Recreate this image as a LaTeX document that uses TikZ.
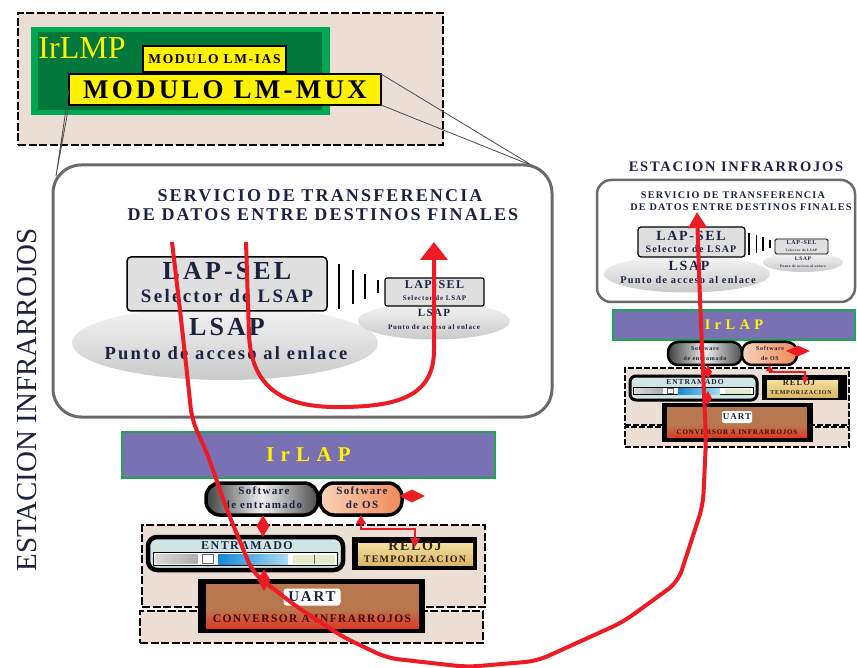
\documentclass[tikz,border=0pt]{standalone}
\usepackage{fontspec}
\setmainfont{Liberation Serif}
\newfontfamily\spc[LetterSpace=12]{Liberation Serif}
\newfontfamily\wspc[LetterSpace=30]{Liberation Serif}
\usetikzlibrary{arrows.meta,shapes.geometric}
\newcommand\fs[2]{\fontsize{#1}{#2}\selectfont}

\definecolor{beige}{HTML}{EBDFD5}
\definecolor{lmpout}{HTML}{00A651}
\definecolor{lmpin}{HTML}{00783C}
\definecolor{yel}{HTML}{FFF200}
\definecolor{lapviolet}{HTML}{7A70B4}
\definecolor{irgreen}{HTML}{1BA84F}
\definecolor{arrowred}{HTML}{ED1C24}
\definecolor{ink}{HTML}{1C2340}
\definecolor{boxgray}{HTML}{6A6A6A}
\definecolor{tanl}{HTML}{F3E0A0}
\definecolor{tand}{HTML}{D9B766}
\definecolor{uartbrown}{HTML}{B8784F}
\definecolor{convred}{HTML}{DC3B26}
\definecolor{entfill}{HTML}{CFE5E3}
\definecolor{osl}{HTML}{FAD2B8}
\definecolor{osd}{HTML}{F08A58}
\definecolor{blued}{HTML}{1587D6}
\definecolor{bluel}{HTML}{A9DCF5}
\definecolor{crcfill}{HTML}{E4EACB}

\tikzset{
  plainbox/.style={inner sep=0, outer sep=0},
  dashbox/.style={plainbox, draw=black, line width=1.8pt, dash pattern=on 8pt off 2.5pt, fill=beige},
  yelbox/.style={plainbox, draw=black, line width=1.2pt, fill=yel},
  pill/.style={plainbox, draw=black, line width=3.5pt, rounded corners=14pt},
  lbl/.style={inner sep=0, text=ink, font=\spc\bfseries\fs{#1}{#1}},
  reddia/.style={diamond, fill=arrowred, inner sep=0, aspect=1},
  redarrow/.style={draw=arrowred, line width=4pt, line join=round, rounded corners=12pt},
  clockarrow/.style={draw=arrowred, line width=1.6pt},
  linkline/.style={draw=black!70, line width=0.8pt},
  bar/.style={line width=2.2pt},
}

\begin{document}
\begin{tikzpicture}[x=1pt,y=-1pt]
\useasboundingbox (0,0) rectangle (857,668);

% IrLMP
\node[dashbox, minimum width=425, minimum height=132] (lmpframe) at (230.5,79) {};
\node[plainbox, fill=lmpout, minimum width=299, minimum height=88] (lmpouter) at (180.5,71) {};
\node[plainbox, fill=lmpin, minimum width=284, minimum height=78] (lmpinner) at (180,71) {};
\node[inner sep=0, text=yel, font=\fs{32}{32}] (irlmp) at (82,48) {IrLMP};
\node[yelbox, lbl=13.5, text=black, minimum width=143, minimum height=26] (lmias) at (214.5,59) {MODULO LM-IAS};
\node[yelbox, lbl=27, text=black, minimum width=312, minimum height=31] (lmmux) at (225,89.5) {MODULO LM-MUX};

\coordinate (srvne) at (533,166);
\coordinate (srvnw) at (56,176);
\draw[linkline] (lmmux.north east) -- (srvne) (lmmux.south east) -- (srvne);
\draw[linkline] (lmmux.west) -- (srvnw) (lmmux.south west) -- (srvnw);

% servicio (izquierda)
\node[plainbox, draw=boxgray, line width=3pt, rounded corners=28pt, fill=white, minimum width=499, minimum height=252] (srvbox) at (302.5,291) {};
\node[lbl=18] (srvt1) at (320,196) {SERVICIO DE TRANSFERENCIA};
\node[lbl=18] (srvt2) at (323,215) {DE DATOS ENTRE DESTINOS FINALES};

\node[ellipse, plainbox, top color=gray!8, bottom color=gray!42, minimum width=306, minimum height=74] (lsap) at (225,343) {};
\node[plainbox, draw=black, line width=1.5pt, rounded corners=4pt, fill=gray!25, minimum width=200, minimum height=54] (lapsel) at (227,284) {};
\node[lbl=26] (lapselt) at (227,271) {LAP-SEL};
\node[lbl=19] (lapsels) at (227,296) {Selector de LSAP};
\node[lbl=26] (lsapt) at (227,327) {LSAP};
\node[lbl=18.5] (lsaps) at (226,353) {Punto de acceso al enlace};

\foreach \x/\h in {339/22.5, 353/17, 365/12.5, 378/6.5}
  \draw[bar] (\x,287-\h) -- (\x,287+\h);

\node[ellipse, plainbox, top color=gray!8, bottom color=gray!42, minimum width=152, minimum height=37] (lsapsm) at (434,321) {};
\node[plainbox, draw=black, line width=1.2pt, rounded corners=2pt, fill=gray!25, minimum width=99, minimum height=28] (lapsm) at (434.5,292) {};
\node[lbl=12] (lapsmt) at (434.5,285) {LAP-SEL};
\node[lbl=7] (lapsms) at (434.5,298) {Selector de LSAP};
\node[lbl=11] (lsapsmt) at (434,313) {LSAP};
\node[lbl=7] (lsapsms) at (434,327) {Punto de acceso al enlace};

\node[rotate=90, inner sep=0, text=ink, font=\fs{29}{29}] (station) at (27,400) {ESTACION INFRARROJOS};

% pila inferior (izquierda)
\node[plainbox, draw=irgreen, line width=2pt, fill=lapviolet, minimum width=373, minimum height=46, text=yel, font=\wspc\bfseries\fs{21}{21}] (irlap) at (308.5,455) {IrLAP};

\node[dashbox, minimum width=343, minimum height=82] (lowtop) at (313.5,566) {};
\node[dashbox, minimum width=343, minimum height=32] (lowbot) at (311.5,627) {};

\node[pill, left color=black!75, right color=black!70, middle color=gray!12, minimum width=112, minimum height=32] (swent) at (262,499) {};
\node[lbl=11] (swent1) at (264,491) {Software};
\node[lbl=11] (swent2) at (263,505) {de entramado};
\node[pill, left color=osl, right color=osd, minimum width=82, minimum height=32] (swos) at (361,499) {};
\node[lbl=11] (swos1) at (362,491) {Software};
\node[lbl=11] (swos2) at (362,505) {de OS};

\node[plainbox, draw=black, line width=4.5pt, rounded corners=9pt, fill=entfill, minimum width=195, minimum height=33] (entr) at (245.5,553.5) {};
\node[lbl=12] (entrt) at (247,546) {ENTRAMADO};
\node[plainbox, draw=black, line width=0.8pt, fill=white, minimum width=184, minimum height=13] (strip) at (245,559) {};
\node[plainbox, left color=gray!30, right color=gray!65, minimum width=42, minimum height=9] (seghdr) at (176.5,559) {};
\node[plainbox, draw=black!60, fill=white, minimum width=11, minimum height=9] (segid) at (208,559) {};
\node[plainbox, left color=blued, right color=bluel, minimum width=70, minimum height=10] (segdata) at (253,559) {};
\node[plainbox, fill=crcfill, minimum width=42, minimum height=9] (segcrc) at (314,559) {};
\draw[black!60] (segcrc.north) -- (segcrc.south);

\node[plainbox, fill=black, minimum width=125, minimum height=33] (relojbg) at (414.5,553.5) {};
\node[plainbox, top color=tanl, bottom color=tand, minimum width=115, minimum height=22] (reloj) at (415.5,554) {};
\node[lbl=14, text=black!75!brown] (relojt) at (415,546) {RELOJ};
\node[lbl=10, text=black!75!brown] (relojs) at (415,559) {TEMPORIZACION};

\node[plainbox, fill=black, minimum width=227, minimum height=54] (uartbg) at (311.5,606) {};
\node[plainbox, fill=uartbrown, minimum width=213, minimum height=25] (uart) at (312.5,596.5) {};
\node[plainbox, top color=uartbrown, bottom color=convred, minimum width=213, minimum height=19] (conv) at (312.5,618.5) {};
\node[plainbox, fill=white, rounded corners=3pt, minimum width=57, minimum height=17, lbl=15] (uartt) at (312,597) {UART};
\node[lbl=11.5, text=black!70!red] (convt) at (312,619) {CONVERSOR A INFRARROJOS};

\node[reddia, minimum width=13, minimum height=22] (dia1) at (263,526) {};
\node[reddia, minimum width=13, minimum height=22] (dia2) at (264,580) {};
\node[reddia, minimum width=26, minimum height=13] (dia3) at (412,496) {};
\coordinate (clkin) at (415,547);
\draw[clockarrow, {Triangle[width=10pt,length=9pt]}-{Triangle[width=10pt,length=9pt]}]
  (swos.south) -- (361,529) -- (415,529) -- (clkin);

% estacion (derecha)
\node[lbl=14.5] (bstation) at (736,167) {ESTACION INFRARROJOS};
\node[plainbox, draw=boxgray, line width=2.5pt, rounded corners=14pt, fill=white, minimum width=258, minimum height=122] (brbox) at (726,241) {};
\node[lbl=10.2] (bsrvt1) at (733,195) {SERVICIO DE TRANSFERENCIA};
\node[lbl=10.2] (bsrvt2) at (741,207) {DE DATOS ENTRE DESTINOS FINALES};

\node[ellipse, plainbox, top color=gray!8, bottom color=gray!42, minimum width=166, minimum height=37] (blsap) at (687,274) {};
\node[plainbox, draw=black, line width=1.2pt, rounded corners=3pt, fill=gray!25, minimum width=107, minimum height=30] (blapsel) at (691.5,242) {};
\node[lbl=14] (blapselt) at (691,236) {LAP-SEL};
\node[lbl=10] (blapsels) at (691,249) {Selector de LSAP};
\node[lbl=14] (blsapt) at (689,266) {LSAP};
\node[lbl=10.3] (blsaps) at (688,280) {Punto de acceso al enlace};

\foreach \x/\h in {749/11, 756.5/9, 763/7, 770/4}
  \draw[line width=1.5pt] (\x,244-\h) -- (\x,244+\h);

\node[ellipse, plainbox, top color=gray!8, bottom color=gray!42, minimum width=80, minimum height=19] (blsapsm) at (803,262.5) {};
\node[plainbox, draw=black, line width=0.9pt, rounded corners=1.5pt, fill=gray!25, minimum width=53, minimum height=15] (blapsm) at (801.5,246.5) {};
\node[lbl=6] (blapsmt) at (801.5,243) {LAP-SEL};
\node[lbl=3.5] (blapsms) at (801.5,250) {Selector de LSAP};
\node[lbl=5.5] (blsapsmt) at (803,259) {LSAP};
\node[lbl=3.5] (blsapsms) at (803,266) {Punto de acceso al enlace};

\node[plainbox, draw=irgreen, line width=1.6pt, fill=lapviolet, minimum width=242, minimum height=30, text=yel, font=\wspc\bfseries\fs{14.5}{14.5}] (birlap) at (734,325) {IrLAP};

\node[plainbox, draw=black, line width=1.5pt, dash pattern=on 6pt off 2pt, fill=beige, minimum width=224, minimum height=57] (blowtop) at (737,396.5) {};
\node[plainbox, draw=black, line width=1.5pt, dash pattern=on 6pt off 2pt, fill=beige, minimum width=224, minimum height=20] (blowbot) at (737,437) {};

\node[pill, line width=2.5pt, rounded corners=10pt, left color=black!75, right color=black!70, middle color=gray!12, minimum width=74, minimum height=23] (bswent) at (705,353.5) {};
\node[lbl=6] (bswent1) at (705,348) {Software};
\node[lbl=6] (bswent2) at (705,358) {de entramado};
\node[pill, line width=2.5pt, rounded corners=10pt, left color=osl, right color=osd, minimum width=55, minimum height=23] (bswos) at (769.5,353.5) {};
\node[lbl=6] (bswos1) at (770,348) {Software};
\node[lbl=6] (bswos2) at (770,358) {de OS};

\node[plainbox, draw=black, line width=3pt, rounded corners=6pt, fill=entfill, minimum width=127, minimum height=24] (bentr) at (693.5,388) {};
\node[lbl=7.5] (bentrt) at (695,382) {ENTRAMADO};
\node[plainbox, draw=black, line width=0.6pt, fill=white, minimum width=120, minimum height=7] (bstrip) at (693,391) {};
\node[plainbox, left color=gray!30, right color=gray!65, minimum width=28, minimum height=5] (bseghdr) at (649,391) {};
\node[plainbox, draw=black!60, fill=white, minimum width=6, minimum height=5] (bsegid) at (670.5,391) {};
\node[plainbox, left color=blued, right color=bluel, minimum width=42, minimum height=6] (bsegdata) at (699,391) {};
\node[plainbox, fill=crcfill, minimum width=26, minimum height=5] (bsegcrc) at (738,391) {};

\node[plainbox, fill=black, minimum width=85, minimum height=25] (brelojbg) at (804.5,387.5) {};
\node[plainbox, top color=tanl, bottom color=tand, minimum width=71, minimum height=17] (breloj) at (802.5,388.5) {};
\node[lbl=8.5, text=black!75!brown] (brelojt) at (799,383) {RELOJ};
\node[lbl=6, text=black!75!brown] (brelojs) at (801,393) {TEMPORIZACION};

\node[plainbox, fill=black, minimum width=151, minimum height=39] (buartbg) at (737.5,422.5) {};
\node[plainbox, fill=uartbrown, minimum width=140, minimum height=18] (buart) at (737,416) {};
\node[plainbox, top color=uartbrown, bottom color=convred, minimum width=140, minimum height=12] (bconv) at (737,431) {};
\node[plainbox, fill=white, rounded corners=2pt, minimum width=30, minimum height=12, lbl=9] (buartt) at (737,417) {UART};
\node[lbl=7, text=black!70!red] (bconvt) at (737,432) {CONVERSOR A INFRARROJOS};

\node[reddia, minimum width=8, minimum height=14] (bdia1) at (708,372) {};
\node[reddia, minimum width=8, minimum height=14] (bdia2) at (708,398) {};
\node[reddia, minimum width=24, minimum height=11] (bdia3) at (798,351) {};
\coordinate (bclkin) at (805,383);
\draw[draw=arrowred, line width=1.2pt, {Triangle[width=7pt,length=6pt]}-{Triangle[width=7pt,length=6pt]}]
  (bswos.south) -- (769.5,372) -- (805,372) -- (bclkin);

% flechas de datos
\coordinate (a1s) at (172,242);
\coordinate (a1e) at (697,212);
\draw[redarrow, -{Triangle[width=18pt,length=16pt]}] (a1s) -- (180,310) -- (187,373) -- (192,420)
  -- (207,453) -- (227,510) -- (253,573) -- (297,607) -- (343,637) -- (387,658) -- (467,667)
  -- (537,661) -- (623,622) -- (678,582) -- (703,505) -- (706,440) -- (700,300) -- (a1e);

\coordinate (a2s) at (246,242);
\coordinate (a2e) at (434,242);
\draw[redarrow, rounded corners=0pt, -{Triangle[width=27pt,length=18pt]}] (a2s) -- (249,335)
  .. controls (252,400) and (300,408) .. (345,407)
  .. controls (400,406) and (434,395) .. (434,350) -- (a2e);
\end{tikzpicture}
\end{document}
